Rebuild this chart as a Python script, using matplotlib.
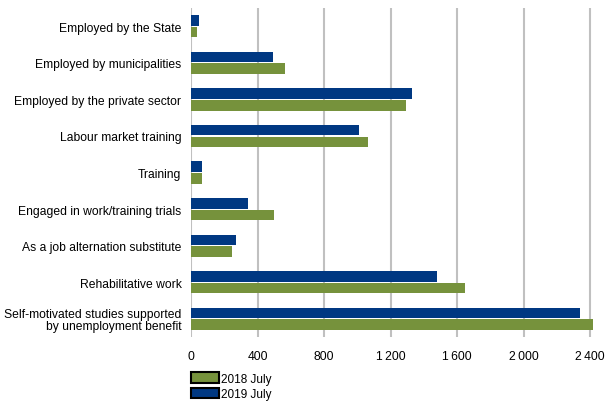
import numpy as np
import matplotlib.pyplot as plt

plt.rcParams['font.family'] = ['Liberation Sans', 'DejaVu Sans']

categories = ['Employed by the State', 'Employed by municipalities',
              'Employed by the private sector', 'Labour market training',
              'Training', 'Engaged in work/training trials',
              'As a job alternation substitute', 'Rehabilitative work',
              'Self-motivated studies supported\nby unemployment benefit']
jul_2018 = [37, 565, 1295, 1065, 67, 500, 248, 1650, 2418]
jul_2019 = [49, 490, 1330, 1012, 63, 340, 272, 1480, 2336]
xticks = [0, 400, 800, 1200, 1600, 2000, 2400]
xtick_labels = ['0', '400', '800', '1\u2009200', '1\u2009600', '2\u2009000', '2\u2009400']

fig = plt.figure(figsize=(6.05, 4.06), dpi=100)
ax = fig.add_axes([0.316, 0.167, 0.676, 0.811])

y = np.arange(len(categories))
h = 0.29
ax.barh(y - h / 2 - 0.015, jul_2019, height=h, color='#003882', label='2019 July', zorder=3)
ax.barh(y + h / 2 + 0.015, jul_2018, height=h, color='#76923c', label='2018 July', zorder=3)

ax.set_ylim(len(categories) - 0.5, -0.5)
ax.set_xlim(0, 2460)
ax.set_yticks(y)
ax.set_yticklabels(categories, fontsize=8.7, ha='right', linespacing=1.0)
ax.set_xticks(xticks)
ax.set_xticklabels(xtick_labels, fontsize=8.7)
ax.tick_params(length=0, pad=7)
ax.tick_params(axis='x', pad=9)
ax.grid(axis='x', color='#c0c0c0', linewidth=1.5, zorder=0)
for s in ax.spines.values():
    s.set_visible(False)

handles, labels = ax.get_legend_handles_labels()
leg = fig.legend(handles[::-1], labels[::-1], loc='upper left',
                 bbox_to_anchor=(0.306, 0.095), frameon=False, fontsize=8.5,
                 handlelength=2.4, handleheight=1.0, handletextpad=0.15,
                 labelspacing=0.25, borderpad=0.0)
for p in leg.get_patches():
    p.set_edgecolor('black')
    p.set_linewidth(1.5)

fig.savefig('out.png', dpi=100)
